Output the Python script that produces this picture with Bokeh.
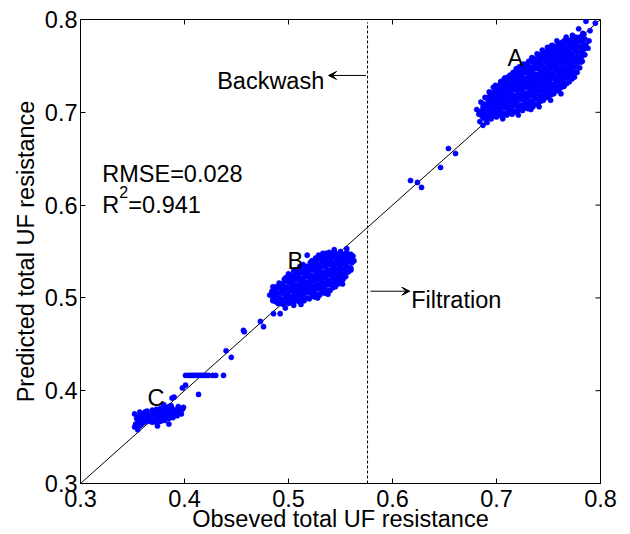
import math
from bokeh.plotting import figure
from bokeh.models import (Range1d, FixedTicker, PrintfTickFormatter,
                          Label, Arrow, VeeHead, ColumnDataSource)
from bokeh.embed import file_html
from bokeh.resources import INLINE

# ---------------- data (observed, predicted) ----------------
cluster_a = [
    (0.684,0.690),(0.686,0.696),(0.685,0.701),(0.687,0.706),(0.685,0.711),
    (0.690,0.692),(0.689,0.697),(0.691,0.703),(0.690,0.708),(0.692,0.713),(0.689,0.716),
    (0.695,0.693),(0.696,0.699),(0.694,0.704),(0.696,0.709),(0.695,0.714),(0.694,0.720),
    (0.700,0.695),(0.701,0.700),(0.699,0.706),(0.700,0.711),(0.701,0.716),(0.699,0.721),(0.701,0.725),
    (0.705,0.696),(0.704,0.701),(0.706,0.707),(0.705,0.712),(0.704,0.717),(0.706,0.722),(0.705,0.728),
    (0.710,0.697),(0.711,0.703),(0.709,0.708),(0.710,0.713),(0.711,0.719),(0.709,0.724),(0.710,0.729),(0.711,0.733),
    (0.715,0.698),(0.714,0.704),(0.716,0.709),(0.715,0.715),(0.714,0.720),(0.716,0.726),(0.715,0.731),(0.714,0.737),
    (0.720,0.700),(0.721,0.705),(0.719,0.711),(0.720,0.716),(0.721,0.722),(0.719,0.727),(0.720,0.732),(0.721,0.737),(0.720,0.742),
    (0.725,0.702),(0.724,0.707),(0.726,0.713),(0.725,0.718),(0.724,0.724),(0.726,0.729),(0.725,0.734),(0.724,0.740),(0.726,0.745),
    (0.730,0.704),(0.731,0.709),(0.729,0.715),(0.730,0.720),(0.731,0.726),(0.729,0.731),(0.730,0.736),(0.731,0.741),(0.729,0.746),(0.730,0.750),
    (0.735,0.706),(0.734,0.712),(0.736,0.717),(0.735,0.723),(0.734,0.728),(0.736,0.733),(0.735,0.738),(0.734,0.744),(0.736,0.749),(0.735,0.754),
    (0.740,0.709),(0.741,0.714),(0.739,0.720),(0.740,0.725),(0.741,0.730),(0.739,0.736),(0.740,0.741),(0.741,0.747),(0.739,0.752),(0.740,0.758),
    (0.745,0.713),(0.744,0.718),(0.746,0.724),(0.745,0.729),(0.744,0.735),(0.746,0.740),(0.745,0.746),(0.744,0.751),(0.746,0.757),(0.745,0.763),
    (0.750,0.717),(0.751,0.722),(0.749,0.728),(0.750,0.733),(0.751,0.739),(0.749,0.744),(0.750,0.750),(0.751,0.755),(0.749,0.761),(0.750,0.766),(0.751,0.769),
    (0.755,0.720),(0.754,0.726),(0.756,0.731),(0.755,0.737),(0.754,0.742),(0.756,0.748),(0.755,0.753),(0.754,0.759),(0.756,0.764),(0.755,0.769),(0.754,0.772),
    (0.760,0.724),(0.761,0.730),(0.759,0.735),(0.760,0.741),(0.761,0.746),(0.759,0.752),(0.760,0.757),(0.761,0.763),(0.759,0.768),(0.760,0.774),
    (0.765,0.728),(0.764,0.734),(0.766,0.739),(0.765,0.745),(0.764,0.750),(0.766,0.756),(0.765,0.761),(0.764,0.767),(0.766,0.772),(0.765,0.777),
    (0.770,0.733),(0.771,0.739),(0.769,0.744),(0.770,0.750),(0.771,0.755),(0.769,0.761),(0.770,0.766),(0.771,0.772),(0.769,0.777),
    (0.775,0.738),(0.774,0.744),(0.776,0.749),(0.775,0.755),(0.774,0.760),(0.776,0.766),(0.775,0.771),(0.774,0.776),(0.776,0.781),
    (0.780,0.748),(0.781,0.754),(0.779,0.759),(0.780,0.765),(0.781,0.770),(0.779,0.776),(0.780,0.781),
    (0.785,0.762),(0.784,0.768),(0.786,0.773),(0.785,0.779),(0.784,0.784),
    (0.786,0.798),(0.795,0.796),(0.790,0.788),(0.789,0.777),(0.788,0.769),(0.779,0.790),(0.783,0.785),
    (0.681,0.703),(0.683,0.698),(0.687,0.686),(0.691,0.689),(0.706,0.693),(0.721,0.697),(0.733,0.703),
    (0.741,0.706),(0.752,0.713),(0.762,0.720),(0.699,0.729),(0.711,0.738),(0.724,0.749),(0.736,0.758),
    (0.749,0.770),(0.758,0.777),(0.773,0.783),(0.767,0.781),(0.781,0.758),
    (0.697,0.727),(0.707,0.735),(0.718,0.743),(0.729,0.752),(0.742,0.762),(0.753,0.772),
    (0.704,0.733),(0.708,0.737),(0.713,0.740),(0.716,0.743),(0.719,0.747),(0.722,0.749),
    (0.726,0.752),(0.731,0.755),(0.734,0.759),(0.739,0.763),(0.744,0.767),(0.693,0.722),
]
# dense core of cluster A: observed value -> predicted values
cluster_a_core = [
    (0.6875, [0.694, 0.699, 0.704, 0.709]),
    (0.6925, [0.695, 0.700, 0.706, 0.711, 0.716]),
    (0.6975, [0.697, 0.702, 0.708, 0.713, 0.718, 0.722]),
    (0.7025, [0.698, 0.704, 0.709, 0.714, 0.719, 0.724, 0.729]),
    (0.7075, [0.699, 0.705, 0.710, 0.716, 0.721, 0.726, 0.730]),
    (0.7125, [0.700, 0.706, 0.711, 0.717, 0.722, 0.727, 0.733]),
    (0.7175, [0.701, 0.707, 0.713, 0.718, 0.724, 0.729, 0.734, 0.739]),
    (0.7225, [0.703, 0.708, 0.714, 0.719, 0.725, 0.730, 0.735, 0.740, 0.745]),
    (0.7275, [0.705, 0.710, 0.716, 0.721, 0.727, 0.732, 0.737, 0.743, 0.747]),
    (0.7325, [0.707, 0.712, 0.718, 0.723, 0.729, 0.734, 0.739, 0.744, 0.749]),
    (0.7375, [0.709, 0.715, 0.720, 0.726, 0.731, 0.736, 0.741, 0.747, 0.752, 0.756]),
    (0.7425, [0.712, 0.717, 0.723, 0.728, 0.733, 0.739, 0.744, 0.750, 0.755, 0.760]),
    (0.7475, [0.716, 0.721, 0.726, 0.732, 0.737, 0.743, 0.748, 0.754, 0.759, 0.765]),
    (0.7525, [0.719, 0.725, 0.730, 0.736, 0.741, 0.747, 0.752, 0.758, 0.763, 0.768]),
    (0.7575, [0.723, 0.728, 0.734, 0.739, 0.745, 0.750, 0.756, 0.761, 0.767, 0.771]),
    (0.7625, [0.727, 0.732, 0.737, 0.743, 0.748, 0.754, 0.759, 0.765, 0.770, 0.775]),
    (0.7675, [0.731, 0.737, 0.742, 0.747, 0.753, 0.758, 0.764, 0.769, 0.774]),
    (0.7725, [0.736, 0.741, 0.747, 0.752, 0.758, 0.763, 0.769, 0.774, 0.779]),
    (0.7775, [0.743, 0.749, 0.754, 0.760, 0.765, 0.771, 0.776, 0.780]),
    (0.7825, [0.755, 0.761, 0.766, 0.772, 0.777, 0.782]),
]

cluster_b = [
    (0.485,0.497),(0.486,0.502),(0.484,0.507),(0.485,0.512),
    (0.490,0.494),(0.491,0.500),(0.489,0.505),(0.490,0.511),(0.491,0.516),
    (0.495,0.493),(0.494,0.498),(0.496,0.504),(0.495,0.509),(0.494,0.515),(0.496,0.520),
    (0.500,0.494),(0.501,0.500),(0.499,0.505),(0.500,0.510),(0.501,0.516),(0.499,0.521),(0.500,0.526),
    (0.505,0.495),(0.504,0.501),(0.506,0.506),(0.505,0.512),(0.504,0.517),(0.506,0.523),(0.505,0.529),
    (0.510,0.496),(0.511,0.502),(0.509,0.507),(0.510,0.513),(0.511,0.518),(0.509,0.524),(0.510,0.529),(0.511,0.534),
    (0.515,0.497),(0.514,0.503),(0.516,0.508),(0.515,0.514),(0.514,0.519),(0.516,0.525),(0.515,0.531),(0.514,0.536),
    (0.520,0.499),(0.521,0.505),(0.519,0.510),(0.520,0.516),(0.521,0.521),(0.519,0.527),(0.520,0.532),(0.521,0.538),
    (0.525,0.501),(0.524,0.507),(0.526,0.512),(0.525,0.518),(0.524,0.523),(0.526,0.529),(0.525,0.534),(0.524,0.540),(0.526,0.543),
    (0.530,0.503),(0.531,0.509),(0.529,0.514),(0.530,0.520),(0.531,0.525),(0.529,0.531),(0.530,0.536),(0.531,0.542),(0.529,0.546),
    (0.535,0.505),(0.534,0.511),(0.536,0.516),(0.535,0.522),(0.534,0.527),(0.536,0.533),(0.535,0.538),(0.534,0.543),(0.536,0.548),
    (0.540,0.508),(0.541,0.514),(0.539,0.519),(0.540,0.525),(0.541,0.530),(0.539,0.536),(0.540,0.541),(0.541,0.546),(0.539,0.549),
    (0.545,0.512),(0.544,0.518),(0.546,0.523),(0.545,0.529),(0.544,0.534),(0.546,0.540),(0.545,0.545),(0.544,0.550),
    (0.550,0.517),(0.551,0.523),(0.549,0.528),(0.550,0.534),(0.551,0.539),(0.549,0.545),(0.550,0.550),
    (0.555,0.523),(0.554,0.529),(0.556,0.534),(0.555,0.540),(0.554,0.545),(0.556,0.549),
    (0.560,0.532),(0.561,0.538),(0.559,0.543),(0.560,0.547),
    (0.518,0.546),(0.492,0.483),(0.485,0.499),(0.488,0.505),(0.482,0.503),(0.497,0.489),(0.505,0.492),
    (0.512,0.493),(0.528,0.500),(0.533,0.548),(0.544,0.552),(0.556,0.553),(0.562,0.545),(0.563,0.540),
    (0.560,0.530),(0.552,0.515),(0.538,0.504),
]
cluster_b_core = [
    (0.4875, [0.496, 0.501, 0.507, 0.512]),
    (0.4925, [0.494, 0.499, 0.505, 0.510, 0.515]),
    (0.4975, [0.496, 0.501, 0.507, 0.512, 0.518, 0.522]),
    (0.5025, [0.497, 0.502, 0.508, 0.513, 0.519, 0.524]),
    (0.5075, [0.498, 0.503, 0.509, 0.514, 0.520, 0.526, 0.530]),
    (0.5125, [0.499, 0.505, 0.510, 0.516, 0.521, 0.527, 0.532]),
    (0.5175, [0.500, 0.506, 0.511, 0.517, 0.523, 0.528, 0.534]),
    (0.5225, [0.502, 0.508, 0.513, 0.519, 0.524, 0.530, 0.535, 0.540]),
    (0.5275, [0.504, 0.510, 0.515, 0.521, 0.526, 0.532, 0.537, 0.542]),
    (0.5325, [0.506, 0.512, 0.517, 0.523, 0.528, 0.534, 0.539, 0.544]),
    (0.5375, [0.508, 0.514, 0.519, 0.525, 0.530, 0.536, 0.541, 0.546]),
    (0.5425, [0.511, 0.516, 0.522, 0.527, 0.533, 0.538, 0.544, 0.548]),
    (0.5475, [0.515, 0.520, 0.526, 0.531, 0.537, 0.542, 0.547]),
    (0.5525, [0.520, 0.526, 0.531, 0.537, 0.542, 0.547]),
    (0.5575, [0.528, 0.533, 0.539, 0.544]),
]

cluster_c = [
    (0.353,0.364),(0.354,0.370),(0.352,0.375),
    (0.357,0.362),(0.358,0.367),(0.356,0.372),(0.357,0.377),
    (0.361,0.366),(0.360,0.371),(0.362,0.377),
    (0.365,0.367),(0.366,0.372),(0.364,0.378),
    (0.369,0.366),(0.368,0.371),(0.370,0.376),(0.369,0.379),
    (0.373,0.366),(0.374,0.371),(0.372,0.376),(0.373,0.380),
    (0.377,0.367),(0.376,0.372),(0.378,0.377),(0.377,0.381),
    (0.381,0.368),(0.382,0.373),(0.380,0.378),(0.381,0.382),
    (0.385,0.370),(0.384,0.375),(0.386,0.380),(0.385,0.383),
    (0.389,0.371),(0.390,0.376),(0.388,0.381),
    (0.393,0.373),(0.392,0.378),(0.394,0.383),
    (0.397,0.375),(0.398,0.380),
    (0.355,0.358),(0.352,0.361),(0.374,0.362),(0.385,0.364),(0.387,0.384),
    (0.388,0.392),(0.390,0.393),(0.399,0.382),(0.380,0.385),
]
cluster_c_core = [
    (0.355, [0.365, 0.371]),
    (0.359, [0.364, 0.369, 0.374]),
    (0.363, [0.369, 0.374]),
    (0.367, [0.369, 0.374]),
    (0.371, [0.369, 0.374, 0.378]),
    (0.375, [0.369, 0.374, 0.379]),
    (0.379, [0.370, 0.375, 0.380]),
    (0.383, [0.371, 0.377, 0.381]),
    (0.387, [0.373, 0.378, 0.382]),
    (0.391, [0.374, 0.379]),
    (0.395, [0.376, 0.381]),
]

between = [
    (0.398,0.403),(0.401,0.406),(0.4135,0.396),
    (0.401,0.4165),(0.404,0.4165),(0.406,0.4165),(0.408,0.4165),(0.410,0.4165),
    (0.412,0.4165),(0.414,0.4165),(0.416,0.4165),(0.418,0.4165),(0.421,0.4165),
    (0.423,0.4165),(0.427,0.4165),(0.430,0.4165),(0.4375,0.4165),
    (0.440,0.443),(0.445,0.436),(0.4567,0.465),(0.4575,0.4635),(0.473,0.4746),
    (0.476,0.469),(0.4856,0.483),
    (0.6173,0.6265),(0.624,0.6244),(0.6279,0.619),(0.6462,0.6405),(0.6538,0.661),(0.6606,0.6556),
]

fit_x = [0.3, 0.8]
fit_y = [0.3, 0.8]
switch_x = [0.576, 0.576]
switch_y = [0.3, 0.797]
ticks = [0.3, 0.4, 0.5, 0.6, 0.7, 0.8]
LO, HI = 0.3, 0.8

points = cluster_a + cluster_b + cluster_c + between
for col in (cluster_a_core, cluster_b_core, cluster_c_core):
    for xo, ys in col:
        points += [(xo, yv) for yv in ys]
src = ColumnDataSource(data=dict(obs=[q[0] for q in points], pred=[q[1] for q in points]))

FONT = "Liberation Sans"
FS = "23.5px"

p = figure(width=630, height=534, x_range=Range1d(LO, HI), y_range=Range1d(LO, HI),
           output_backend="svg", toolbar_location=None,
           min_border_left=80, min_border_right=30, min_border_top=19, min_border_bottom=51)
p.background_fill_color = "white"
p.border_fill_color = "white"
p.outline_line_color = "black"
p.outline_line_width = 1
p.xgrid.visible = False
p.ygrid.visible = False

for ax in (p.xaxis[0], p.yaxis[0]):
    ax.ticker = FixedTicker(ticks=ticks)
    ax.formatter = PrintfTickFormatter(format="%.1f")
    ax.major_tick_in = 5
    ax.major_tick_out = 0
    ax.minor_tick_line_color = None
    ax.axis_line_color = "black"
    ax.major_tick_line_color = "black"
    ax.major_label_text_font = FONT
    ax.major_label_text_color = "black"
    ax.major_label_text_font_size = FS
    ax.axis_label_text_font = FONT
    ax.axis_label_text_font_size = FS
    ax.axis_label_text_font_style = "normal"
    ax.axis_label_text_color = "black"

p.xaxis[0].major_label_standoff = 6
p.yaxis[0].major_label_standoff = 3
p.xaxis[0].axis_label = "Obseved total UF resistance"
p.yaxis[0].axis_label = "Predicted total UF resistance"
p.xaxis[0].axis_label_standoff = -4
p.yaxis[0].axis_label_standoff = 3

# inward ticks on the top and right edges of the box
p.ray(x=ticks, y=[HI] * len(ticks), length=5, length_units="screen",
      angle=-math.pi / 2, line_color="black", line_width=1)
p.ray(x=[HI] * len(ticks), y=ticks, length=5, length_units="screen",
      angle=math.pi, line_color="black", line_width=1)

p.line(fit_x, fit_y, line_color="black", line_width=1)
p.line(switch_x, switch_y, line_color="black", line_width=1, line_dash="3 2")
p.scatter("obs", "pred", source=src, size=5.2, marker="circle",
          fill_color="#0000ff", line_color="#0000ff", line_width=0.5)

p.add_layout(Arrow(end=VeeHead(size=8, fill_color="black", line_color="black", line_width=1),
                   x_start=0.5745, y_start=0.7397, x_end=0.5385, y_end=0.7397,
                   line_color="black", line_width=1))
p.add_layout(Arrow(end=VeeHead(size=8, fill_color="black", line_color="black", line_width=1),
                   x_start=0.5788, y_start=0.5072, x_end=0.6167, y_end=0.5072,
                   line_color="black", line_width=1))

def add_text(x, y, t, size=FS):
    p.add_layout(Label(x=x, y=y, text=t, text_font=FONT, text_font_size=size,
                       text_color="black", text_align="left", text_baseline="alphabetic"))

add_text(0.7105, 0.7580, "A")
add_text(0.4990, 0.5403, "B")
add_text(0.3644, 0.3916, "C")
add_text(0.4314, 0.7332, "Backwash")
add_text(0.6180, 0.4980, "Filtration")
add_text(0.3209, 0.6337, "RMSE=0.028")
add_text(0.3209, 0.6003, "R")
add_text(0.3372, 0.6140, "2", "16px")
add_text(0.3460, 0.6003, "=0.941")

open("out.html", "w").write(file_html(p, INLINE))
